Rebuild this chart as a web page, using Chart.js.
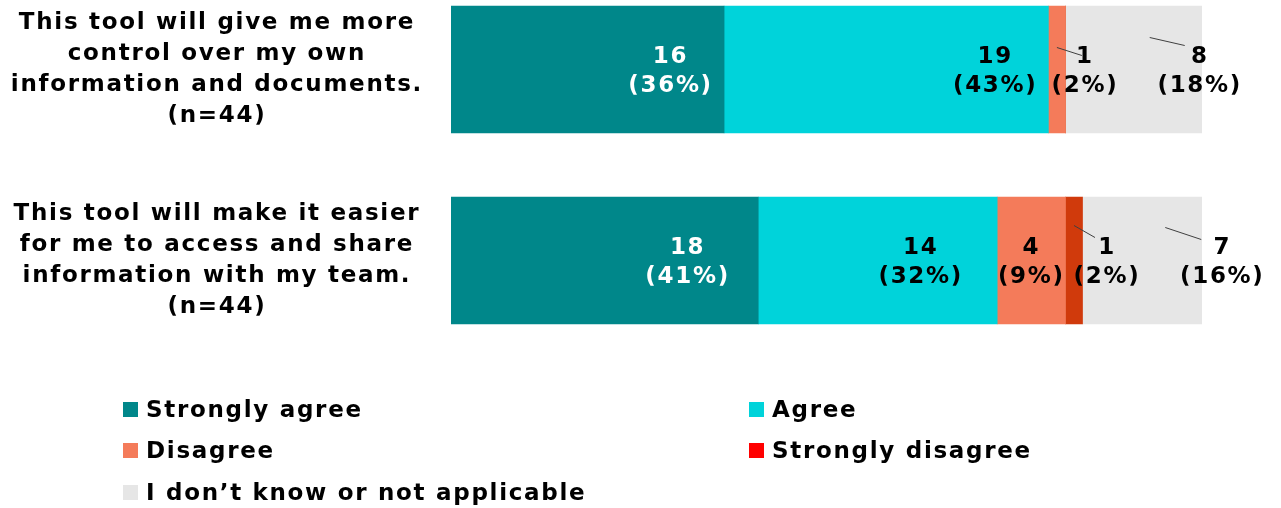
<!DOCTYPE html>
<html>
<head>
<meta charset="utf-8">
<script src="https://cdn.jsdelivr.net/npm/chart.js@4/dist/chart.umd.min.js"></script>
<style>
  html, body { margin: 0; padding: 0; background: #fff; }
  #wrap { position: relative; width: 1281px; height: 508px; overflow: hidden; }
  #chart { position: absolute; left: 0; top: -26px; }
</style>
</head>
<body>
<div id="wrap"><canvas id="chart" width="1281" height="534"></canvas></div>
<script>
// data
const categories = [
  ['This tool will give me more', 'control over my own', 'information and documents.', '(n=44)'],
  ['This tool will make it easier', 'for me to access and share', 'information with my team.', '(n=44)']
];
const responses = ['Strongly agree', 'Agree', 'Disagree', 'Strongly disagree', 'I don\u2019t know or not applicable'];
const stronglyAgree = [16, 18];
const agree = [19, 14];
const disagree = [1, 4];
const stronglyDisagree = [0, 1];
const dontKnow = [8, 7];
const totals = [44, 44];

// styles
const barColors = ['#00878A', '#00D3DA', '#F47B5A', '#D03A0C', '#E6E6E6'];
const legendColors = ['#00878A', '#00D3DA', '#F47B5A', '#FF0000', '#E6E6E6'];
const labelColors = ['#fff', '#000', '#000', '#000', '#000'];
const FONT_SIZE = 23;
const FONT = 'bold ' + FONT_SIZE + 'px "DejaVu Sans"';
const SPACING = '1.7px';
const SHIFT = 26;

// label offsets from segment centre, plus optional leader line [sx, sy, ex, ey]
const labelPlace = [
  [{dx: 83}, {dx: 83}],
  [{dx: 109}, {dx: 43}],
  [{dx: 28, lead: [0, -22, -3, -2]}, {dx: 0}],
  [null, {dx: 33, lead: [0, -35, -12, -11]}],
  [{dx: 66, lead: [16, -32, -15, -12]}, {dx: 80, lead: [23, -33, -21, -9]}]
];

const seriesValues = [stronglyAgree, agree, disagree, stronglyDisagree, dontKnow];

const measure = document.createElement('canvas').getContext('2d');
measure.font = FONT;
measure.letterSpacing = SPACING;
let widest = 0;
categories.forEach(c => c.forEach(l => { widest = Math.max(widest, measure.measureText(l).width); }));
const yPad = Math.max(0, Math.round(451 - 217 - widest / 2));

const valueLabels = {
  id: 'valueLabels',
  beforeUpdate(chart) { chart.ctx.letterSpacing = SPACING; },
  beforeDraw(chart) { chart.ctx.letterSpacing = SPACING; },
  afterDatasetsDraw(chart) {
    const ctx = chart.ctx;
    ctx.save();
    ctx.font = FONT;
    ctx.textAlign = 'center';
    ctx.textBaseline = 'middle';
    chart.data.datasets.forEach((ds, di) => {
      chart.getDatasetMeta(di).data.forEach((bar, i) => {
        const v = ds.data[i];
        const place = labelPlace[di][i];
        if (!v || !place) return;
        const cx = (bar.x + bar.base) / 2;
        const x = cx + place.dx;
        const y1 = bar.y - 12, y2 = bar.y + 17;
        if (place.lead) {
          const [sx, sy, ex, ey] = place.lead;
          ctx.strokeStyle = '#404040';
          ctx.lineWidth = 1;
          ctx.beginPath();
          ctx.moveTo(cx + sx, bar.y + sy);
          ctx.lineTo(x + ex, y1 + ey);
          ctx.stroke();
        }
        const pct = Math.round(v / totals[i] * 100);
        ctx.fillStyle = labelColors[di];
        ctx.fillText(String(v), x, y1);
        ctx.fillText('(' + pct + '%)', x, y2);
      });
    });
    ctx.restore();
  },
  afterDraw(chart) {
    // two-column legend
    const ctx = chart.ctx;
    const cols = [123, 749];
    const rows = [417, 458, 500];
    ctx.save();
    ctx.font = FONT;
    ctx.textBaseline = 'alphabetic';
    ctx.textAlign = 'left';
    responses.forEach((name, k) => {
      const x = cols[k % 2];
      const y = rows[Math.floor(k / 2)] + SHIFT;
      ctx.fillStyle = legendColors[k];
      ctx.fillRect(x, y - 15, 15, 15);
      ctx.fillStyle = '#000';
      ctx.fillText(name, x + 23, y);
    });
    ctx.restore();
  }
};

new Chart(document.getElementById('chart').getContext('2d'), {
  type: 'bar',
  data: {
    labels: categories,
    datasets: responses.map((name, k) => ({
      label: name,
      data: seriesValues[k],
      backgroundColor: barColors[k],
      borderWidth: 0,
      barThickness: 127
    }))
  },
  options: {
    indexAxis: 'y',
    responsive: false,
    animation: false,
    layout: { padding: { left: 0, right: 79, top: 0, bottom: 152 } },
    plugins: { legend: { display: false }, tooltip: { enabled: false } },
    scales: {
      x: { stacked: true, min: 0, max: 44, display: false },
      y: {
        stacked: true,
        grid: { display: false, drawTicks: false },
        border: { display: false },
        afterFit(scale) {
          scale.width = 451;
          scale.paddingTop = 0;
          scale.paddingBottom = 0;
        },
        ticks: {
          crossAlign: 'center',
          padding: yPad,
          color: '#000',
          font: { family: 'DejaVu Sans', size: FONT_SIZE, weight: 'bold', lineHeight: 1.35 }
        }
      }
    }
  },
  plugins: [valueLabels]
});
</script>
</body>
</html>
